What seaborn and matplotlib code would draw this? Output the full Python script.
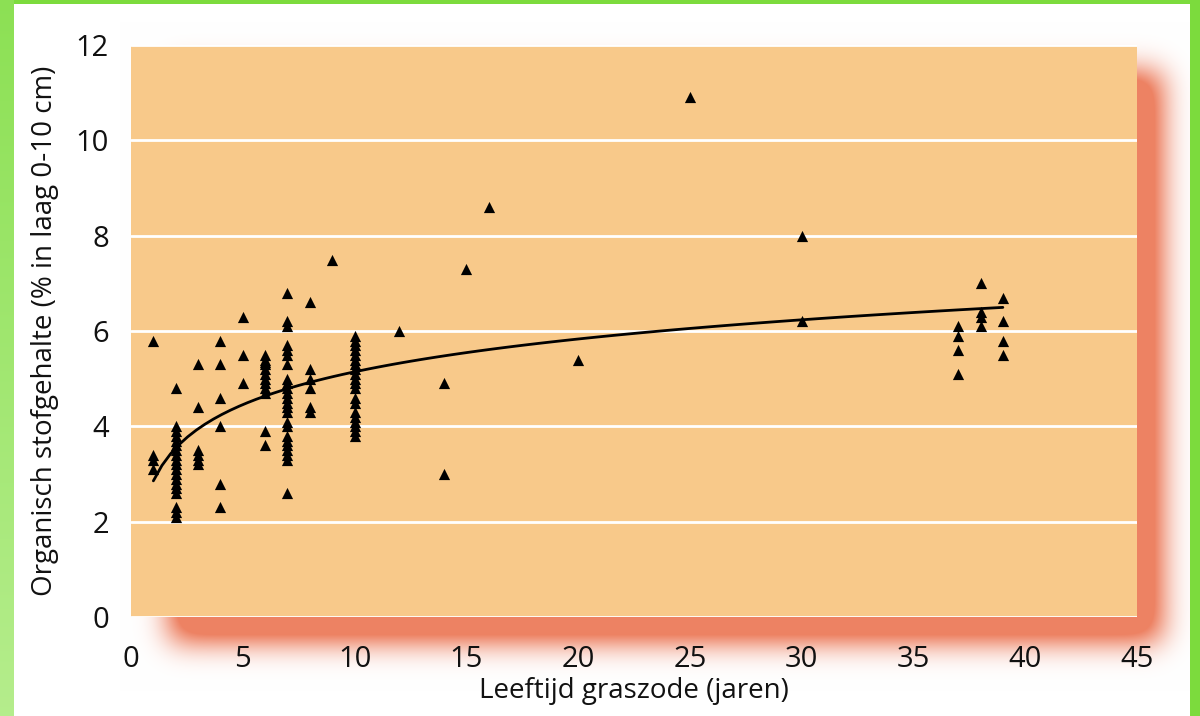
import numpy as np
import pandas as pd
import matplotlib
matplotlib.use('Agg')
import matplotlib.pyplot as plt
import seaborn as sns

# Meetpunten, per leeftijd van de graszode (jaren)
leeftijd_1 = [1, 1, 1, 1]
gehalte_1 = [5.8, 3.4, 3.3, 3.1]
leeftijd_2 = [2] * 19
gehalte_2 = [4.8, 4.0, 3.9, 3.8, 3.7, 3.6, 3.5, 3.4, 3.3, 3.2, 3.1, 3.0, 2.9, 2.8,
             2.7, 2.6, 2.3, 2.2, 2.1]
leeftijd_3 = [3] * 6
gehalte_3 = [5.3, 4.4, 3.5, 3.4, 3.3, 3.2]
leeftijd_4 = [4] * 6
gehalte_4 = [5.8, 5.3, 4.6, 4.0, 2.8, 2.3]
leeftijd_5 = [5] * 3
gehalte_5 = [6.3, 5.5, 4.9]
leeftijd_6 = [6] * 12
gehalte_6 = [5.5, 5.4, 5.35, 5.3, 5.2, 5.1, 5.0, 4.9, 4.8, 4.7, 3.9, 3.6]
leeftijd_7 = [7] * 24
gehalte_7 = [6.8, 6.2, 6.1, 5.7, 5.6, 5.5, 5.3, 5.0, 4.9, 4.8, 4.7, 4.6, 4.5, 4.4,
             4.3, 4.1, 4.0, 3.8, 3.7, 3.6, 3.5, 3.4, 3.3, 2.6]
leeftijd_8 = [8] * 6
gehalte_8 = [6.6, 5.2, 5.0, 4.8, 4.4, 4.3]
leeftijd_10 = [10] * 20
gehalte_10 = [5.9, 5.8, 5.7, 5.6, 5.5, 5.4, 5.3, 5.2, 5.1, 5.0, 4.9, 4.8, 4.6, 4.5,
              4.3, 4.2, 4.1, 4.0, 3.9, 3.8]
leeftijd_los = [9, 12, 14, 14, 15, 16, 20, 25, 30, 30]
gehalte_los = [7.5, 6.0, 4.9, 3.0, 7.3, 8.6, 5.4, 10.9, 8.0, 6.2]
leeftijd_oud = [37, 37, 37, 37, 38, 38, 38, 38, 39, 39, 39, 39]
gehalte_oud = [6.1, 5.9, 5.6, 5.1, 7.0, 6.4, 6.3, 6.1, 6.7, 6.2, 5.8, 5.5]

x_ticks = [0, 5, 10, 15, 20, 25, 30, 35, 40, 45]
y_ticks = [0, 2, 4, 6, 8, 10, 12]

df = pd.DataFrame({
    'leeftijd': leeftijd_1 + leeftijd_2 + leeftijd_3 + leeftijd_4 + leeftijd_5 + leeftijd_6
                + leeftijd_7 + leeftijd_8 + leeftijd_10 + leeftijd_los + leeftijd_oud,
    'gehalte': gehalte_1 + gehalte_2 + gehalte_3 + gehalte_4 + gehalte_5 + gehalte_6
               + gehalte_7 + gehalte_8 + gehalte_10 + gehalte_los + gehalte_oud,
})

sns.set_style('white')
plt.rcParams['font.family'] = ['Open Sans', 'DejaVu Sans']

W, H = 1200, 716
fig = plt.figure(figsize=(12, 7.16), dpi=100)

# background: green frame, white card, blurred salmon shadow
yy, xx = np.mgrid[0:H, 0:W]
mask = ((xx >= 170) & (xx <= 1160) & (yy >= 72) & (yy <= 640)).astype(float)
sigma = 15
k = np.arange(-50, 51)
kern = np.exp(-k**2 / (2 * sigma**2))
kern /= kern.sum()
mask = np.apply_along_axis(lambda r: np.convolve(r, kern, mode='same'), 1, mask)
mask = np.apply_along_axis(lambda c: np.convolve(c, kern, mode='same'), 0, mask)
mask = np.clip(mask * 1.5, 0, 1)
salmon = np.array([0.93, 0.51, 0.39])
img = np.ones((H, W, 3)) * (1 - mask[..., None]) + salmon * mask[..., None]
green = np.array([0.49, 0.86, 0.24])
img[:4, :] = green
img[:, W - 10:] = green
left = np.linspace(0, 1, H)[:, None]
img[:, :14] = (np.array([0.55, 0.88, 0.33]) * (1 - left) + np.array([0.71, 0.93, 0.55]) * left)[:, None, :]

bg = fig.add_axes([0, 0, 1, 1], zorder=0)
bg.imshow(img, aspect='auto', interpolation='bilinear')
bg.axis('off')

ax = fig.add_axes([131 / W, 1 - 617 / H, (1137 - 131) / W, (617 - 45) / H], zorder=1)
ax.set_facecolor('#F8C98A')

sns.regplot(data=df, x='leeftijd', y='gehalte', logx=True, ci=None, scatter=False,
            line_kws={'color': 'black', 'lw': 2}, ax=ax)
sns.scatterplot(data=df, x='leeftijd', y='gehalte', marker='^', s=65, color='black',
                edgecolor='black', linewidth=0, ax=ax, zorder=3)

ax.set_xlim(0, 45)
ax.set_ylim(0, 12)
ax.set_xticks(x_ticks)
ax.set_yticks(y_ticks)
ax.grid(axis='y', color='white', lw=2)
ax.grid(axis='x', visible=False)
for s in ax.spines.values():
    s.set_visible(False)
ax.tick_params(axis='x', direction='out', length=6, width=1.5, color='#FBE3D6',
               pad=14, labelsize=21, labelcolor='#111111')
ax.tick_params(axis='y', length=0, pad=16, labelsize=21, labelcolor='#111111')
ax.set_xlabel('Leeftijd graszode (jaren)', fontsize=20, color='#111111', labelpad=2)
ax.set_ylabel('Organisch stofgehalte (% in laag 0-10 cm)', fontsize=20, color='#111111',
              labelpad=12)

fig.savefig('out.png', dpi=100)
